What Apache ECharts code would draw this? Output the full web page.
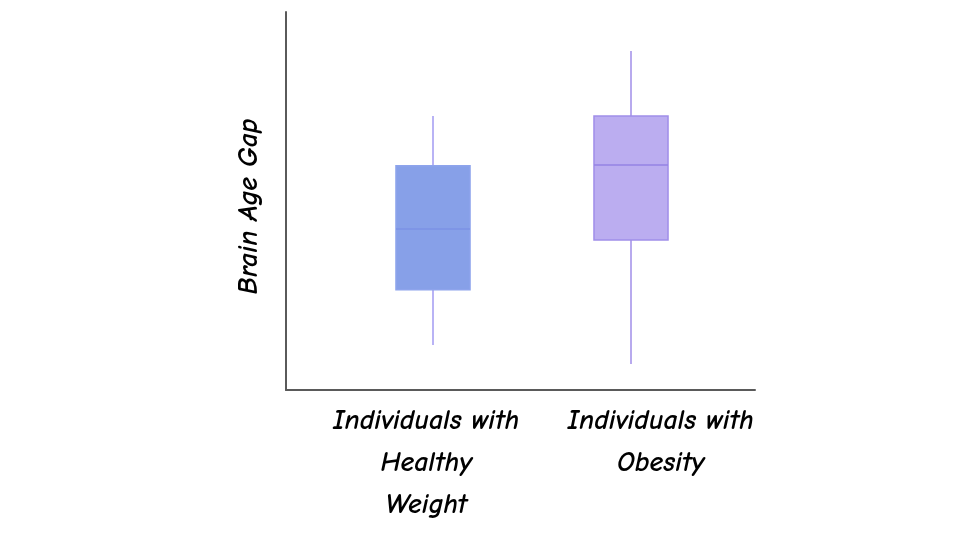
<!DOCTYPE html>
<html>
<head>
    <meta charset="UTF-8">
    <title>Brain Age Gap</title>
    <script src="https://cdn.jsdelivr.net/npm/echarts@6/dist/echarts.min.js"></script>
    <style>
        html, body { margin: 0; padding: 0; background: #fff; }
        #main { width: 960px; height: 540px; }
    </style>
</head>
<body>
    <div id="main"></div>
    <script type="text/javascript">
        // groups and box values: [min, Q1, median, Q3, max]
        var categories = ['Individuals with\nHealthy\nWeight', 'Individuals with\nObesity'];
        var healthyBox = [11.9, 26.5, 42.6, 59.3, 72.5];
        var obesityBox = [6.9, 39.7, 59.5, 72.5, 89.7];
        var yName = 'Brain Age Gap';

        // box fill / outline / whisker / median colours per group
        var boxColors = [
            { fill: '#87a0e8', border: '#8ea4ec', whisker: '#a29af2', median: '#7b92e6' },
            { fill: '#bbadf0', border: '#a08ee9', whisker: '#a08ee9', median: '#9583e4' }
        ];

        var font = "'Comic Neue', 'Comic Sans MS', 'DejaVu Sans', sans-serif";

        var myChart = echarts.init(document.getElementById('main'));

        // a box without whisker caps
        function renderBox(params, api) {
            var i = api.value(0);
            var c = boxColors[i];
            var pMin = api.coord([i, api.value(1)]);
            var pQ1 = api.coord([i, api.value(2)]);
            var pMed = api.coord([i, api.value(3)]);
            var pQ3 = api.coord([i, api.value(4)]);
            var pMax = api.coord([i, api.value(5)]);
            var half = api.size([1, 0])[0] * 0.187;
            var x = pMed[0];
            return {
                type: 'group',
                children: [
                    {
                        type: 'line',
                        shape: { x1: x, y1: pMax[1], x2: x, y2: pQ3[1] },
                        style: { stroke: c.whisker, lineWidth: 1.5 }
                    },
                    {
                        type: 'line',
                        shape: { x1: x, y1: pQ1[1], x2: x, y2: pMin[1] },
                        style: { stroke: c.whisker, lineWidth: 1.5 }
                    },
                    {
                        type: 'rect',
                        shape: { x: x - half, y: pQ3[1], width: half * 2, height: pQ1[1] - pQ3[1] },
                        style: { fill: c.fill, stroke: c.border, lineWidth: 1.5 }
                    },
                    {
                        type: 'line',
                        shape: { x1: x - half, y1: pMed[1], x2: x + half, y2: pMed[1] },
                        style: { stroke: c.median, lineWidth: 1.5 }
                    }
                ]
            };
        }

        myChart.setOption({
            animation: false,
            grid: [
                // axis frame
                { left: 286, right: 205, top: 12, bottom: 150 },
                // category labels
                { left: 309, right: 182, top: 12, bottom: 150 },
                // boxes
                { left: 334, right: 230, top: 12, bottom: 150 }
            ],
            xAxis: [
                {
                    gridIndex: 0, type: 'value', min: 0, max: 1,
                    axisLine: { show: true, lineStyle: { color: '#5a5a5a', width: 2 } },
                    axisTick: { show: false }, axisLabel: { show: false }, splitLine: { show: false }
                },
                {
                    gridIndex: 1, type: 'category', data: categories,
                    axisLine: { show: false }, axisTick: { show: false }, splitLine: { show: false },
                    axisLabel: {
                        interval: 0, margin: 10,
                        color: '#000', fontSize: 28, lineHeight: 42, fontWeight: 'bold',
                        fontFamily: font, fontStyle: 'italic'
                    }
                },
                {
                    gridIndex: 2, type: 'category', data: categories,
                    axisLine: { show: false }, axisTick: { show: false },
                    axisLabel: { show: false }, splitLine: { show: false }
                }
            ],
            yAxis: [
                {
                    gridIndex: 0, type: 'value', min: 0, max: 1,
                    name: yName, nameLocation: 'middle', nameGap: 23, nameRotate: 90,
                    nameTextStyle: {
                        color: '#000', fontSize: 28, fontWeight: 'bold',
                        fontFamily: font, fontStyle: 'italic', padding: [0, 11, 0, 0]
                    },
                    axisLine: { show: true, lineStyle: { color: '#5a5a5a', width: 2 } },
                    axisTick: { show: false }, axisLabel: { show: false }, splitLine: { show: false }
                },
                {
                    gridIndex: 1, type: 'value', show: false
                },
                {
                    gridIndex: 2, type: 'value', min: 0, max: 100, show: false
                }
            ],
            series: [{
                type: 'custom',
                xAxisIndex: 2,
                yAxisIndex: 2,
                renderItem: renderBox,
                encode: { x: 0, y: [1, 2, 3, 4, 5] },
                data: [
                    [0].concat(healthyBox),
                    [1].concat(obesityBox)
                ]
            }]
        });
    </script>
</body>
</html>
